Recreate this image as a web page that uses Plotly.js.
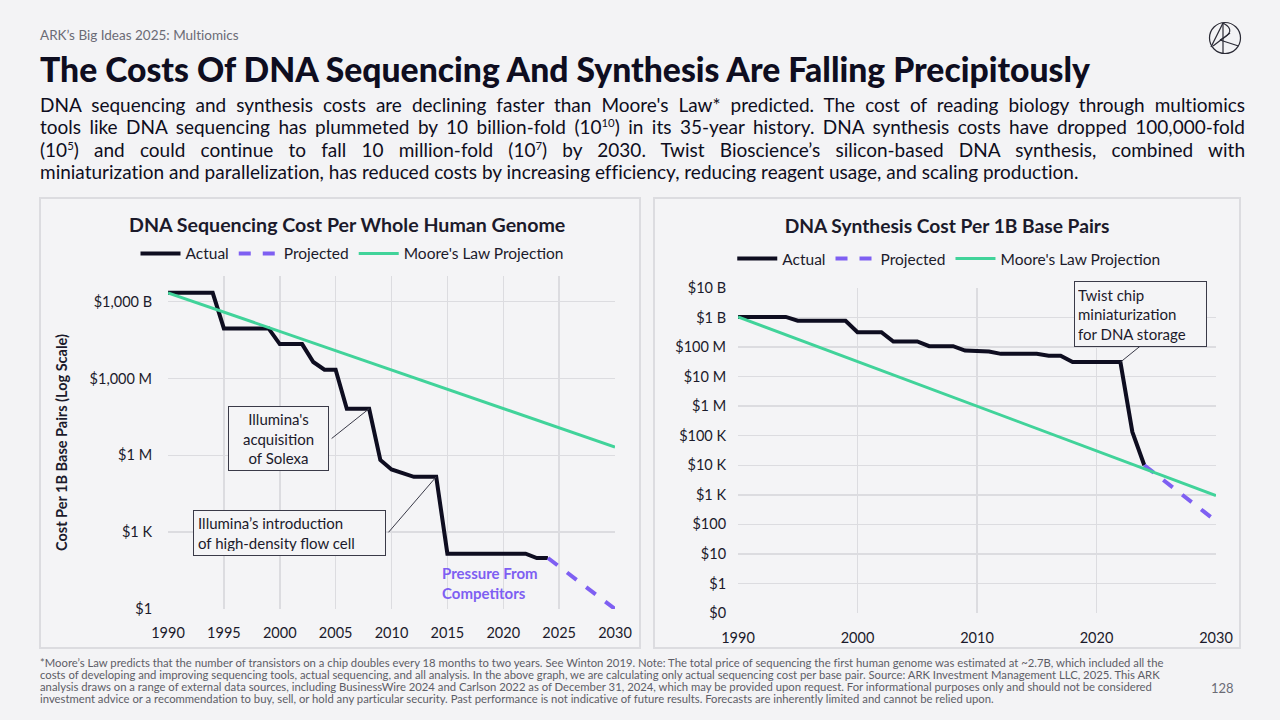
<!DOCTYPE html>
<html>
<head>
<meta charset="utf-8">
<script src="https://cdn.plot.ly/plotly-3.0.1.min.js"></script>
<style>
  html,body{margin:0;padding:0}
  body{width:1280px;height:720px;background:#F3F3F5;position:relative;overflow:hidden;font-family:Lato,"Noto Sans",sans-serif;color:#0E0D20;font-variant-ligatures:none}
  svg text{font-variant-ligatures:none}
  .hdr{position:absolute;left:40px;top:27px;font-size:13.5px;color:#6b6b75;white-space:nowrap}
  .ttl{position:absolute;left:40px;top:49px;font-size:33px;font-weight:900;white-space:nowrap;color:#0E0D20}
  .body{position:absolute;left:40px;top:94px;width:1205px;font-size:19px;line-height:22.4px;color:#0E0D20}
  .body div{white-space:nowrap}
  .body .j{text-align:justify;text-align-last:justify}
  .body sup{font-size:60%;line-height:0}
  .panel{position:absolute;top:197px;height:452px;border:2px solid #DCDCE0;box-sizing:border-box;background:#F4F4F6}
  .chart{position:absolute;top:197px;height:451px}
  .foot{position:absolute;left:40px;top:657px;font-size:11.2px;line-height:12px;color:#5d5d66}
  .foot div{white-space:nowrap}
  .pg{position:absolute;left:1211px;top:680px;font-size:13px;color:#6b6b75}
  svg.logo{position:absolute;left:1205px;top:18px}
</style>
</head>
<body>
<div class="hdr">ARK’s Big Ideas 2025: Multiomics</div>
<div class="ttl" id="ttl">The Costs Of DNA Sequencing And Synthesis Are Falling Precipitously</div>
<svg class="logo" width="40" height="42" viewBox="1205 18 40 42">
  <g fill="none" stroke="#2a2a35" stroke-width="1.2">
    <circle cx="1225" cy="38" r="15.5"/>
    <line x1="1211" y1="47" x2="1223" y2="23"/>
    <line x1="1223" y1="23" x2="1223" y2="53.5"/>
    <path d="M1223 23 Q1238 31 1220 40"/>
    <line x1="1220" y1="40" x2="1238.5" y2="46"/>
    <line x1="1213" y1="46" x2="1230" y2="33"/>
  </g>
</svg>
<div class="body">
  <div class="j">DNA sequencing and synthesis costs are declining faster than Moore's Law* predicted. The cost of reading biology through multiomics</div>
  <div class="j">tools like DNA sequencing has plummeted by 10 billion-fold (10<sup>10</sup>) in its 35-year history. DNA synthesis costs have dropped 100,000-fold</div>
  <div class="j">(10<sup>5</sup>) and could continue to fall 10 million-fold (10<sup>7</sup>) by 2030. Twist Bioscience’s silicon-based DNA synthesis, combined with</div>
  <div>miniaturization and parallelization, has reduced costs by increasing efficiency, reducing reagent usage, and scaling production.</div>
</div>

<div class="panel" style="left:39px;width:602px"></div>
<div class="panel" style="left:653px;width:588px"></div>
<div class="chart" id="seq" style="left:40px;width:600px"></div>
<div class="chart" id="syn" style="left:654px;width:586px"></div>

<div class="foot" id="foot">
  <div>*Moore’s Law predicts that the number of transistors on a chip doubles every 18 months to two years. See Winton 2019. Note: The total price of sequencing the first human genome was estimated at ~2.7B, which included all the</div>
  <div>costs of developing and improving sequencing tools, actual sequencing, and all analysis. In the above graph, we are calculating only actual sequencing cost per base pair. Source: ARK Investment Management LLC, 2025. This ARK</div>
  <div>analysis draws on a range of external data sources, including BusinessWire 2024 and Carlson 2022 as of December 31, 2024, which may be provided upon request. For informational purposes only and should not be considered</div>
  <div>investment advice or a recommendation to buy, sell, or hold any particular security. Past performance is not indicative of future results. Forecasts are inherently limited and cannot be relied upon.</div>
</div>
<div class="pg">128</div>

<script>
// ---------------- DATA ----------------
// DNA sequencing cost per whole human genome (per 1B base pairs)
const seqYears = [1990,1994,1995,1999,2000,2002,2003,2004,2005,2006,2008,2009,2010,2012,2014,2015,2022,2023,2024];
const seqCost  = [2.2e12,2.2e12,9e10,9e10,2.2e10,2.2e10,4.4e9,2.2e9,2.2e9,6.6e7,6.6e7,6.6e5,2.8e5,1.45e5,1.45e5,145,145,98,98];
const seqProjYears = [2024,2030];
const seqProjCost  = [98,1];
const seqMooreYears = [1990,2030];
const seqMooreCost  = [2.2e12,2.1e6];
const seqTickVals = [1,1e3,1e6,1e9,1e12];
const seqTickText = ['$1','$1 K','$1 M','$1,000 M','$1,000 B'];
const seqXTicks = [1990,1995,2000,2005,2010,2015,2020,2025,2030];

// DNA synthesis cost per 1B base pairs
const synYears = [1990,1994,1995,1999,2000,2002,2003,2005,2006,2008,2009,2011,2012,2015,2016,2017,2018,2022,2023,2024];
const synCost  = [1.05e9,1.05e9,7.8e8,7.8e8,3.2e8,3.2e8,1.55e8,1.55e8,1.07e8,1.07e8,7.6e7,7.1e7,5.9e7,5.9e7,5.1e7,5.1e7,3.1e7,3.1e7,1.35e5,1.0e4];
const synProjYears = [2024,2030];
const synProjCost  = [1.0e4,130];
const synMooreYears = [1990,2030];
const synMooreCost  = [1.05e9,950];
const synTickVals = [0.1,1,10,100,1e3,1e4,1e5,1e6,1e7,1e8,1e9,1e10];
const synTickText = ['$0','$1','$10','$100','$1 K','$10 K','$100 K','$1 M','$10 M','$100 M','$1 B','$10 B'];
const synXTicks = [1990,2000,2010,2020,2030];

const seriesNames = ['Actual','Projected',"Moore's Law Projection"];

// ---------------- STYLE ----------------
const C_ACT = '#0E0D20', C_PROJ = '#7E5FF2', C_MOORE = '#41D39A';
const GRID = '#DCDCE0', TXT = '#1B1A2B', FONT = 'Lato, "Noto Sans", sans-serif';
const BOXLINE = '#3a3a48', PANELBG = '#F4F4F6';

function traces(x, y, px, py, mx, my) {
  return [
    {x:x, y:y, name:seriesNames[0], type:'scatter', mode:'lines', line:{color:C_ACT, width:4}},
    {x:px, y:py, name:seriesNames[1], type:'scatter', mode:'lines', line:{color:C_PROJ, width:4, dash:'dash'}},
    {x:mx, y:my, name:seriesNames[2], type:'scatter', mode:'lines', line:{color:C_MOORE, width:3}}
  ];
}
const cfg = {staticPlot:true, displayModeBar:false};

// ---------------- LEFT CHART ----------------
Plotly.newPlot('seq', traces(seqYears, seqCost, seqProjYears, seqProjCost, seqMooreYears, seqMooreCost), {
  width:600, height:451,
  margin:{l:128, r:25, t:79, b:39},
  paper_bgcolor:'rgba(0,0,0,0)', plot_bgcolor:'rgba(0,0,0,0)',
  font:{family:FONT, color:TXT, size:14},
  title:{text:'<b>DNA Sequencing Cost Per Whole Human Genome</b>', font:{size:19.6, color:TXT},
         xref:'container', x:0.512, xanchor:'center', yref:'container', y:0.938, yanchor:'middle'},
  showlegend:true,
  legend:{orientation:'h', xref:'container', x:0.52, xanchor:'center', yref:'container', y:0.874, yanchor:'middle',
          font:{size:15.5, color:TXT}, bgcolor:'rgba(0,0,0,0)', itemwidth:40, traceorder:'normal'},
  xaxis:{range:[1990,2030], tickvals:seqXTicks, showgrid:true, gridcolor:GRID, gridwidth:1.5,
         zeroline:false, showline:false, ticks:'outside', ticklen:11, tickcolor:'rgba(0,0,0,0)', tickfont:{size:14.5}},
  yaxis:{type:'log', range:[0,13], tickvals:seqTickVals, ticktext:seqTickText, showgrid:true, gridcolor:GRID, gridwidth:1.5,
         zeroline:false, showline:false, ticks:'outside', ticklen:12, tickcolor:'rgba(0,0,0,0)', tickfont:{size:14.5},
         title:{text:'<b>Cost Per 1B Base Pairs (Log Scale)</b>', font:{size:14.5, color:TXT}, standoff:18}},
  annotations:[
    {x:1999.9, y:6.64, xref:'x', yref:'y', text:"Illumina's<br>acquisition<br>of Solexa", showarrow:false,
     font:{size:15, color:TXT}, align:'center', bordercolor:BOXLINE, borderwidth:1, borderpad:4, bgcolor:PANELBG,
     width:91, height:55},
    {x:2008, y:7.82, xref:'x', yref:'y', text:'', showarrow:true, arrowhead:0, arrowwidth:1, arrowcolor:BOXLINE, ax:-39, ay:31},
    {x:2000.9, y:2.96, xref:'x', yref:'y', text:"Illumina’s introduction<br>of high-density flow cell", showarrow:false,
     font:{size:15, color:TXT}, align:'left', bordercolor:BOXLINE, borderwidth:1, borderpad:4, bgcolor:PANELBG,
     width:183, height:36},
    {x:2014, y:5.16, xref:'x', yref:'y', text:'', showarrow:true, arrowhead:0, arrowwidth:1, arrowcolor:BOXLINE, ax:-49, ay:57},
    {x:2014.3, y:1.0, xref:'x', yref:'y', text:'<b>Pressure From<br>Competitors</b>', showarrow:false,
     xanchor:'left', yanchor:'middle', align:'left', font:{size:15, color:C_PROJ}}
  ]
}, cfg);

// ---------------- RIGHT CHART ----------------
Plotly.newPlot('syn', traces(synYears, synCost, synProjYears, synProjCost, synMooreYears, synMooreCost), {
  width:586, height:451,
  margin:{l:84, r:24, t:91, b:35},
  paper_bgcolor:'rgba(0,0,0,0)', plot_bgcolor:'rgba(0,0,0,0)',
  font:{family:FONT, color:TXT, size:14},
  title:{text:'<b>DNA Synthesis Cost Per 1B Base Pairs</b>', font:{size:19.2, color:TXT},
         xref:'container', x:0.5, xanchor:'center', yref:'container', y:0.936, yanchor:'middle'},
  showlegend:true,
  legend:{orientation:'h', xref:'container', x:0.503, xanchor:'center', yref:'container', y:0.8625, yanchor:'middle',
          font:{size:15.5, color:TXT}, bgcolor:'rgba(0,0,0,0)', itemwidth:40, traceorder:'normal'},
  xaxis:{range:[1990,2030], tickvals:synXTicks, showgrid:true, gridcolor:GRID, gridwidth:1.5,
         zeroline:false, showline:false, ticks:'outside', ticklen:12, tickcolor:'rgba(0,0,0,0)', tickfont:{size:14.5}},
  yaxis:{type:'log', range:[-1,10], tickvals:synTickVals, ticktext:synTickText, showgrid:true, gridcolor:GRID, gridwidth:1.5,
         zeroline:false, showline:false, ticks:'outside', ticklen:8, tickcolor:'rgba(0,0,0,0)', tickfont:{size:14.5}},
  annotations:[
    {x:2023.7, y:9.12, xref:'x', yref:'y', text:"Twist chip<br>miniaturization<br>for DNA storage", showarrow:false,
     font:{size:15, color:TXT}, align:'left', bordercolor:BOXLINE, borderwidth:1, borderpad:3, bgcolor:PANELBG,
     width:125, height:58},
    {x:2022, y:7.49, xref:'x', yref:'y', text:'', showarrow:true, arrowhead:0, arrowwidth:1, arrowcolor:BOXLINE, ax:21, ay:-17}
  ]
}, cfg);

// fit headline width to reference span
(function(){
  const t = document.getElementById('ttl');
  const target = 1050;
  const w = t.getBoundingClientRect().width;
  if (w > 0) t.style.fontSize = (33 * target / w).toFixed(2) + 'px';
  // fit footer font so its first line spans the same width as the reference
  const f = document.getElementById('foot');
  const first = f.querySelector('div');
  const span = document.createElement('span'); span.innerHTML = first.innerHTML; first.innerHTML = ''; first.appendChild(span);
  const fw = span.getBoundingClientRect().width;
  if (fw > 0) f.style.fontSize = (11.2 * 1123 / fw).toFixed(2) + 'px';
})();
</script>
</body>
</html>
